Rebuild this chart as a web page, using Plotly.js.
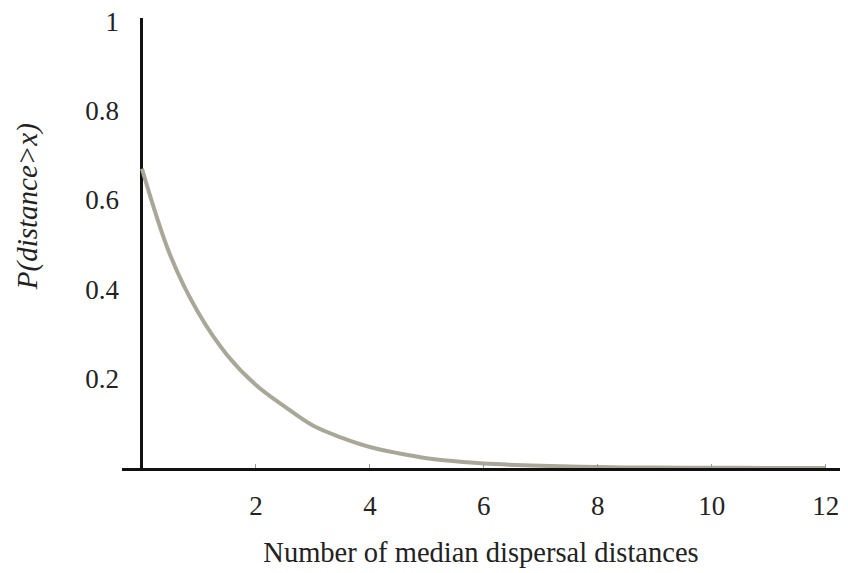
<!DOCTYPE html>
<html>
<head>
<meta charset="utf-8">
<script src="https://cdn.plot.ly/plotly-3.0.1.min.js"></script>
<style>
  html, body { margin: 0; padding: 0; background: #fff; }
  #chart { width: 848px; height: 573px; }
</style>
</head>
<body>
<div id="chart"></div>
<script>
// distance in units of the median dispersal distance
var distances = [0, 0.5, 1, 1.5, 2, 2.5, 3, 3.5, 4, 4.5, 5, 5.5, 6, 7, 8, 9, 10, 11, 12];
// probability that dispersal distance exceeds x
var probExceed = [0.67, 0.475, 0.345, 0.252, 0.186, 0.138, 0.095, 0.068, 0.047, 0.033, 0.022, 0.015, 0.010, 0.005, 0.002, 0.001, 0.0005, 0.0002, 0];

var xTicks = [2, 4, 6, 8, 10, 12];
var yTicks = [0.2, 0.4, 0.6, 0.8, 1];
var yTickText = ["0.2", "0.4", "0.6", "0.8", "1"];

var serif = "Liberation Serif";

var trace = {
    x: distances,
    y: probExceed,
    type: "scatter",
    mode: "lines",
    line: { color: "#a9a898", width: 4, shape: "spline" },
    hoverinfo: "skip"
}

var layout = {
    width: 848,
    height: 573,
    margin: { l: 122, r: 8, t: 18, b: 105 },
    paper_bgcolor: "#fff",
    plot_bgcolor: "#fff",
    showlegend: false,
    font: { family: serif, size: 27, color: "#222" },
    xaxis: {
        range: [-0.35, 12.25],
        tickvals: xTicks,
        ticks: "inside",
        ticklen: 4,
        tickcolor: "#999",
        ticklabelstandoff: 12,
        tickfont: { family: serif, size: 27, color: "#222" },
        showgrid: false,
        showline: true,
        linecolor: "#111",
        linewidth: 3,
        zeroline: true,
        zerolinecolor: "#111",
        zerolinewidth: 3,
        title: { text: "Number of median dispersal distances", standoff: 22, font: { family: serif, size: 28.5, color: "#222" } }
    },
    yaxis: {
        range: [0, 1.007],
        tickvals: yTicks,
        ticktext: yTickText,
        ticks: "",
        ticklabelstandoff: 2,
        tickfont: { family: serif, size: 27, color: "#222" },
        showgrid: false,
        showline: false,
        zeroline: false
    },
    annotations: [{
        text: "<i>P(distance>x)</i>",
        xref: "paper",
        yref: "paper",
        x: -0.132,
        y: 0.58,
        xanchor: "center",
        yanchor: "middle",
        textangle: -90,
        showarrow: false,
        font: { family: serif, size: 29, color: "#222" }
    }]
}

Plotly.newPlot("chart", [trace], layout, { staticPlot: true })
</script>
</body>
</html>
